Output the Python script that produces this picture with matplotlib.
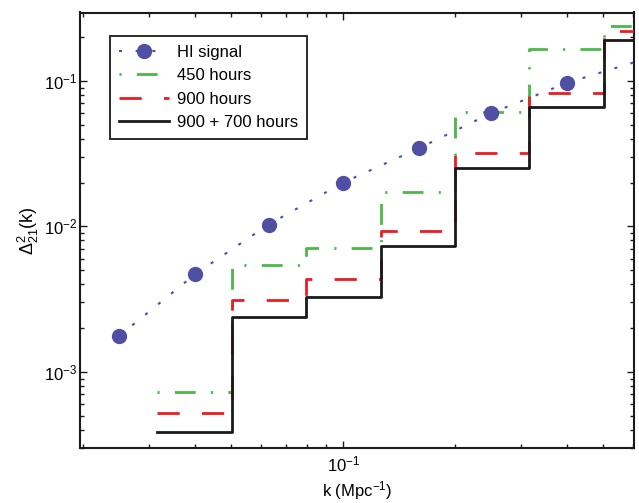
import numpy as np
import matplotlib
matplotlib.use("Agg")
import matplotlib.pyplot as plt
from matplotlib.ticker import LogLocator, NullFormatter

plt.rcParams["font.family"] = ["Liberation Sans", "DejaVu Sans"]
plt.rcParams["mathtext.fontset"] = "custom"
plt.rcParams["mathtext.rm"] = "Liberation Sans"
plt.rcParams["mathtext.it"] = "Liberation Sans:italic"
plt.rcParams["mathtext.bf"] = "Liberation Sans:bold"
plt.rcParams["lines.scale_dashes"] = False

# HI signal points (markers) and the dotted curve through them
k_hi = [0.025, 0.04, 0.063, 0.1, 0.16, 0.25, 0.4]
hi_sig = [1.77e-3, 4.7e-3, 1.03e-2, 2.0e-2, 3.45e-2, 6.0e-2, 9.7e-2]
k_curve = k_hi + [0.605]
hi_curve = hi_sig + [0.134]

# k-bin edges of the sensitivity steps
edges = [0.0316, 0.0501, 0.0794, 0.126, 0.1995, 0.316, 0.501, 0.794]
err_450 = [7.3e-4, 5.4e-3, 7.1e-3, 1.71e-2, 6.15e-2, 0.165, 0.24]
err_900 = [5.25e-4, 3.12e-3, 4.36e-3, 9.3e-3, 3.2e-2, 8.3e-2, 0.219]
err_1600 = [3.89e-4, 2.40e-3, 3.27e-3, 7.35e-3, 2.52e-2, 6.62e-2, 0.191]

BLUE = "#4f4fa3"
GREEN = "#4cb848"
RED = "#ec1c24"
BLACK = "#1a1a1a"

fig = plt.figure(figsize=(6.39, 5.03), dpi=100)
ax = fig.add_axes([80 / 639, 55 / 503, 554 / 639, 435.5 / 503])
ax.set_xscale("log")
ax.set_yscale("log")


def steps(vals):
    return list(vals) + [vals[-1]]


ax.plot(edges, steps(err_450), drawstyle="steps-post", color=GREEN, lw=2.0,
        dashes=(1.5, 11, 15, 11), label="450 hours", zorder=2)
ax.plot(edges, steps(err_900), drawstyle="steps-post", color=RED, lw=2.0,
        dashes=(16, 16), label="900 hours", zorder=3)
ax.plot(edges, steps(err_1600), drawstyle="steps-post", color=BLACK, lw=2.0,
        label="900 + 700 hours", zorder=4)
ax.plot(k_curve, hi_curve, color=BLUE, lw=1.5, dashes=(2.2, 9.8),
        marker="o", markersize=10, markerfacecolor=BLUE, markeredgecolor=BLUE,
        markevery=list(range(len(k_hi))), label="HI signal", zorder=5)

ax.set_xlim(0.0196, 0.605)
ax.set_ylim(3.0e-4, 0.295)

ax.xaxis.set_minor_locator(LogLocator(base=10, subs=np.arange(2, 10)))
ax.yaxis.set_minor_locator(LogLocator(base=10, subs=np.arange(2, 10)))
ax.xaxis.set_minor_formatter(NullFormatter())
ax.yaxis.set_minor_formatter(NullFormatter())
ax.tick_params(which="both", direction="in", top=True, right=True,
               labelsize=12, width=1.0, color=BLACK)
ax.tick_params(which="major", length=5)
ax.tick_params(which="minor", length=3)
ax.tick_params(axis="y", pad=2)
ax.tick_params(axis="x", pad=5)
for sp in ax.spines.values():
    sp.set_linewidth(1.5)
    sp.set_color(BLACK)

ax.set_xlabel("k (Mpc$^{-1}$)", fontsize=12, labelpad=3)
ax.set_ylabel("$\\Delta^2_{21}$(k)", fontsize=13, labelpad=2)

h, l = ax.get_legend_handles_labels()
order = [3, 0, 1, 2]
leg = ax.legend([h[i] for i in order], [l[i] for i in order],
                loc="upper left", bbox_to_anchor=(0.054, 0.9465), borderaxespad=0,
                fontsize=12, handlelength=3.0, handletextpad=0.45, borderpad=0.55,
                labelspacing=0.5, numpoints=1, fancybox=False, framealpha=1,
                edgecolor=BLACK)
leg.get_frame().set_linewidth(1.3)

fig.savefig("out.png", dpi=100)
